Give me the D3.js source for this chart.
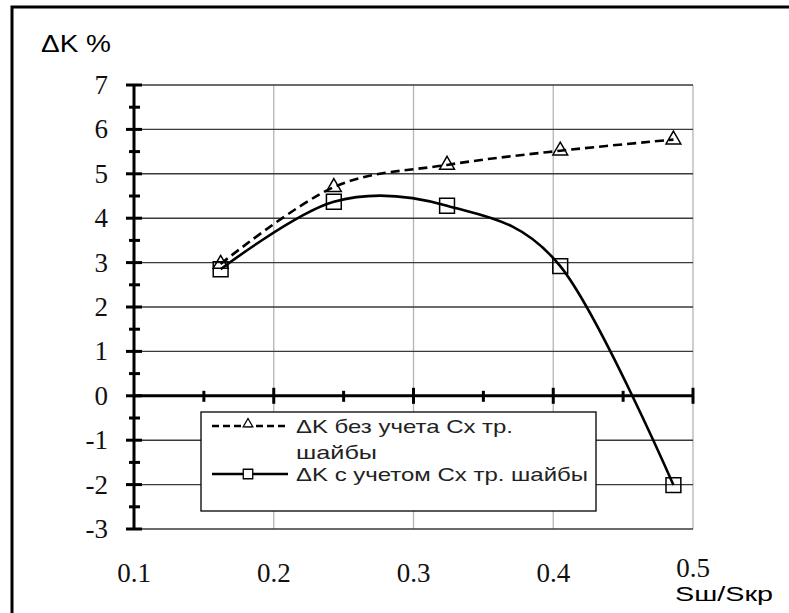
<!DOCTYPE html>
<html><head><meta charset="utf-8">
<script src="https://cdn.jsdelivr.net/npm/d3@7"></script>
<style>body{margin:0;background:#fff;} svg{display:block;}
.serif{font-family:"Liberation Serif","DejaVu Serif","Times New Roman",Times,serif;}
.sans{font-family:"Liberation Sans",Arial,"DejaVu Sans",sans-serif;}
</style>
</head><body>
<script>
const xValues = [0.162, 0.243, 0.324, 0.405, 0.486];
const seriesNoCx = [2.97, 4.70, 5.20, 5.52, 5.77];
const seriesWithCx = [2.85, 4.37, 4.28, 2.92, -2.01];
const seriesNames = ["ΔK без учета Cx тр.", "шайбы", "ΔK с учетом Cx тр. шайбы"];
const xTicks = [0.1, 0.2, 0.3, 0.4, 0.5];
const yTicks = [-3, -2, -1, 0, 1, 2, 3, 4, 5, 6, 7];
const yLabel = "ΔK %";
const xLabel = "Sш/Sкр";

const W = 789, H = 613;
const svg = d3.select("body").append("svg").attr("width", W).attr("height", H);

// outer frame
svg.append("rect").attr("x", 12).attr("y", 7).attr("width", 820).attr("height", 640)
  .attr("fill", "none").attr("stroke", "#000").attr("stroke-width", 3);

const x = d3.scaleLinear().domain([0.1, 0.5]).range([134, 693]);
const y = d3.scaleLinear().domain([-3, 7]).range([529, 85]);

// vertical grid
svg.append("g").selectAll("line").data(xTicks.slice(1)).join("line")
  .attr("x1", d => x(d)).attr("x2", d => x(d)).attr("y1", y(7)).attr("y2", y(-3))
  .attr("stroke", "#b4b4b4").attr("stroke-width", 1.3);
// horizontal grid
svg.append("g").selectAll("line").data(yTicks).join("line")
  .attr("x1", x(0.1)).attr("x2", x(0.5)).attr("y1", d => y(d)).attr("y2", d => y(d))
  .attr("stroke", "#3a3a3a").attr("stroke-width", 1.4);

// y axis
svg.append("line").attr("x1", x(0.1)).attr("x2", x(0.1)).attr("y1", y(7)).attr("y2", y(-3))
  .attr("stroke", "#000").attr("stroke-width", 3);
const yMinor = d3.range(-2.5, 7, 1);
svg.append("g").selectAll("line").data(yTicks).join("line")
  .attr("x1", x(0.1) - 8).attr("x2", x(0.1) + 8).attr("y1", d => y(d)).attr("y2", d => y(d))
  .attr("stroke", "#000").attr("stroke-width", 3);
svg.append("g").selectAll("line").data(yMinor).join("line")
  .attr("x1", x(0.1) - 5).attr("x2", x(0.1) + 6).attr("y1", d => y(d)).attr("y2", d => y(d))
  .attr("stroke", "#000").attr("stroke-width", 3);

// x axis at y=0
svg.append("line").attr("x1", x(0.1)).attr("x2", x(0.5)).attr("y1", y(0)).attr("y2", y(0))
  .attr("stroke", "#000").attr("stroke-width", 3);
const xMinor = [0.15, 0.25, 0.35, 0.45];
svg.append("g").selectAll("line").data(xTicks.slice(1)).join("line")
  .attr("x1", d => x(d)).attr("x2", d => x(d)).attr("y1", y(0) - 8).attr("y2", y(0) + 8)
  .attr("stroke", "#000").attr("stroke-width", 3);
svg.append("g").selectAll("line").data(xMinor).join("line")
  .attr("x1", d => x(d)).attr("x2", d => x(d)).attr("y1", y(0) - 5).attr("y2", y(0) + 6)
  .attr("stroke", "#000").attr("stroke-width", 3);

// tick labels
svg.append("g").selectAll("text").data(yTicks).join("text")
  .attr("class", "serif")
  .attr("x", 108).attr("y", d => y(d) + 9).attr("text-anchor", "end")
  .attr("font-size", 27).attr("fill", "#111")
  .text(d => d);
svg.append("g").selectAll("text").data(xTicks).join("text")
  .attr("class", "serif")
  .attr("x", d => x(d)).attr("y", d => d === 0.5 ? 577 : 582).attr("text-anchor", "middle")
  .attr("font-size", 27).attr("fill", "#111")
  .text(d => d3.format(".1f")(d));

svg.append("text").attr("class", "sans").attr("x", 41).attr("y", 52)
  .attr("font-size", 24).attr("textLength", 70).attr("lengthAdjust", "spacingAndGlyphs").text(yLabel);
svg.append("text").attr("class", "sans").attr("x", 675).attr("y", 601)
  .attr("font-size", 20).attr("textLength", 98).attr("lengthAdjust", "spacingAndGlyphs").text(xLabel);

// lines
const pts1 = xValues.map((v, i) => [x(v), y(seriesNoCx[i])]);
const pts2 = xValues.map((v, i) => [x(v), y(seriesWithCx[i])]);
const line = d3.line().curve(d3.curveCardinal.tension(0));
svg.append("path").attr("d", line(pts1)).attr("fill", "none").attr("stroke", "#000")
  .attr("stroke-width", 2.6).attr("stroke-dasharray", "9,5");
svg.append("path").attr("d", line(pts2)).attr("fill", "none").attr("stroke", "#000")
  .attr("stroke-width", 2.6);

const tri = d3.symbol().type(d3.symbolTriangle).size(95);
const sq = d3.symbol().type(d3.symbolSquare).size(220);
svg.append("g").selectAll("path").data(pts1).join("path")
  .attr("transform", d => `translate(${d[0]},${d[1]})`).attr("d", tri)
  .attr("fill", "none").attr("stroke", "#000").attr("stroke-width", 1.5);
svg.append("g").selectAll("path").data(pts2).join("path")
  .attr("transform", d => `translate(${d[0]},${d[1]})`).attr("d", sq)
  .attr("fill", "none").attr("stroke", "#000").attr("stroke-width", 1.5);

// legend
const lg = svg.append("g");
lg.append("rect").attr("x", 201).attr("y", 412).attr("width", 395).attr("height", 99)
  .attr("fill", "#fff").attr("stroke", "#000").attr("stroke-width", 1.3);
lg.append("line").attr("x1", 212).attr("x2", 288).attr("y1", 426).attr("y2", 426)
  .attr("stroke", "#000").attr("stroke-width", 2.5).attr("stroke-dasharray", "7,4");
lg.append("path").attr("transform", "translate(248,424)").attr("d", d3.symbol().type(d3.symbolTriangle).size(40))
  .attr("fill", "#fff").attr("stroke", "#000").attr("stroke-width", 1.3);
lg.append("line").attr("x1", 212).attr("x2", 288).attr("y1", 474).attr("y2", 474)
  .attr("stroke", "#000").attr("stroke-width", 2.5);
lg.append("path").attr("transform", "translate(248,474)").attr("d", d3.symbol().type(d3.symbolSquare).size(90))
  .attr("fill", "#fff").attr("stroke", "#000").attr("stroke-width", 1.3);
const lt = [[296, 433, 217], [296, 459, 81], [296, 481, 292]];
lg.selectAll("text").data(seriesNames).join("text")
  .attr("class", "sans")
  .attr("x", (d, i) => lt[i][0]).attr("y", (d, i) => lt[i][1])
  .attr("font-size", 19).attr("fill", "#222")
  .attr("textLength", (d, i) => lt[i][2]).attr("lengthAdjust", "spacingAndGlyphs")
  .text(d => d);
</script>
</body></html>
